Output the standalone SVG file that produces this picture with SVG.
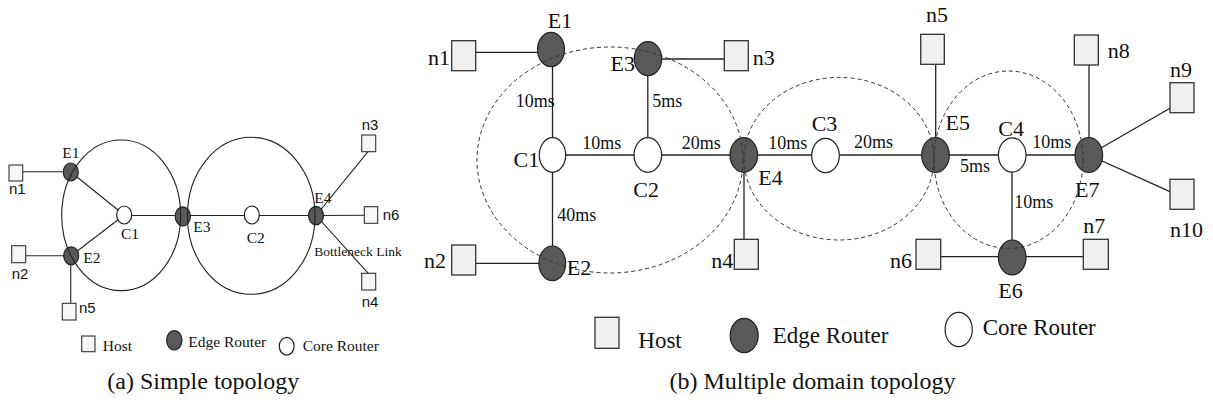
<svg xmlns="http://www.w3.org/2000/svg" width="1213" height="406" viewBox="0 0 1213 406">
<style>
.bg{fill:#ffffff}
.ln{stroke:#222;stroke-width:1.3;fill:none}
.lnA{stroke:#222;stroke-width:1.1;fill:none}
.host{fill:#f0f0f0;stroke:#333;stroke-width:1.3}
.hostA{fill:#f6f6f6;stroke:#333;stroke-width:1.1}
.edge{fill:#595959;stroke:#222;stroke-width:1.2}
.core{fill:#ffffff;stroke:#222;stroke-width:1.2}
.dom{fill:none;stroke:#333;stroke-width:1;stroke-dasharray:4 3}
.domA{fill:none;stroke:#222;stroke-width:1.1}
.s{font-family:"Liberation Serif","Times New Roman",serif;fill:#111}
.ss{font-family:"Liberation Sans",Arial,sans-serif;fill:#111}
.nl{font-size:22px}
.ms{font-size:18px}
.lg{font-size:23px}
.cap{font-size:24px}
.la{font-size:15.5px}
.lb{font-size:15px}
</style>
<rect class="bg" x="0" y="0" width="1213" height="406"/>

<!-- ===== (a) Simple topology ===== -->
<g id="a-connectors">
  <line class="lnA" x1="22.7" y1="171.7" x2="70.8" y2="171.7"/>
  <line class="lnA" x1="70.8" y1="172" x2="124.2" y2="215"/>
  <line class="lnA" x1="71.2" y1="255.8" x2="124.2" y2="215"/>
  <line class="lnA" x1="25.7" y1="255.7" x2="71.2" y2="255.7"/>
  <line class="lnA" x1="70.7" y1="255.8" x2="70.7" y2="303.3"/>
  <line class="lnA" x1="124.2" y1="215.5" x2="316" y2="215.5"/>
  <line class="lnA" x1="316" y1="215.5" x2="368" y2="151.7"/>
  <line class="lnA" x1="316" y1="215.5" x2="364.3" y2="215.3"/>
  <line class="lnA" x1="316" y1="215.5" x2="368.3" y2="273.3"/>
</g>
<g id="a-n1"><rect class="hostA" x="9" y="165" width="13.7" height="16"/><text class="ss lb" x="9" y="194.3">n1</text></g>
<g id="a-n2"><rect class="hostA" x="11.7" y="245.7" width="14" height="17"/><text class="ss lb" x="11.7" y="279.3">n2</text></g>
<g id="a-n5"><rect class="hostA" x="62.3" y="303.3" width="13.7" height="16.7"/><text class="ss lb" x="79" y="312.7">n5</text></g>
<g id="a-n3"><rect class="hostA" x="361.7" y="135" width="14" height="16.7"/><text class="ss lb" x="361.7" y="130">n3</text></g>
<g id="a-n6"><rect class="hostA" x="364.3" y="206.7" width="13.4" height="16.6"/><text class="ss lb" x="382.7" y="220">n6</text></g>
<g id="a-n4"><rect class="hostA" x="361.7" y="273.3" width="14" height="16.7"/><text class="ss lb" x="361.7" y="306.7">n4</text></g>
<g id="a-E1"><ellipse class="edge" cx="70.8" cy="172" rx="7.5" ry="9"/><text class="s la" x="62.3" y="158.3">E1</text></g>
<g id="a-E2"><ellipse class="edge" cx="71.2" cy="255.8" rx="7.5" ry="9"/><text class="s la" x="83.3" y="262.7">E2</text></g>
<g id="a-E3"><ellipse class="edge" cx="182.8" cy="216.3" rx="7.6" ry="9.5"/><text class="s la" x="193.3" y="232.3">E3</text></g>
<g id="a-E4"><ellipse class="edge" cx="316" cy="215.6" rx="7.5" ry="9.3"/><text class="s la" x="314.3" y="202.7">E4</text></g>
<g id="a-C1"><ellipse class="core" cx="124.2" cy="215" rx="7.5" ry="9"/><text class="s la" x="121" y="239">C1</text></g>
<g id="a-C2"><ellipse class="core" cx="251.8" cy="215" rx="7.5" ry="9"/><text class="s la" x="246.7" y="242.7">C2</text></g>
<g id="a-domains">
  <ellipse class="domA" cx="121.2" cy="215.3" rx="59.5" ry="75.3"/>
  <ellipse class="domA" cx="251.2" cy="215.8" rx="63.8" ry="78.5"/>
</g>
<text class="s" x="314.3" y="255.5" font-size="13.5">Bottleneck Link</text>
<g id="a-legend">
  <rect class="hostA" x="81.7" y="336" width="13.3" height="15.7"/>
  <text class="s la" x="102.7" y="351">Host</text>
  <ellipse class="edge" cx="174.3" cy="340.3" rx="7.7" ry="9.7"/>
  <text class="s la" x="188.3" y="346.7">Edge Router</text>
  <ellipse class="core" cx="286.7" cy="346.2" rx="7.4" ry="8.9"/>
  <text class="s la" x="302.7" y="351">Core Router</text>
</g>
<text class="s cap" x="203.3" y="389" text-anchor="middle">(a) Simple topology</text>

<!-- ===== (b) Multiple domain topology ===== -->
<g id="b-connectors">
  <line class="ln" x1="475.7" y1="52.3" x2="551" y2="52.3"/>
  <line class="ln" x1="552.5" y1="49.5" x2="552.5" y2="263.3"/>
  <line class="ln" x1="475.7" y1="263.3" x2="552.5" y2="263.3"/>
  <line class="ln" x1="552.5" y1="155" x2="1088.8" y2="155"/>
  <line class="ln" x1="647.8" y1="58.7" x2="647.8" y2="155"/>
  <line class="ln" x1="648" y1="59" x2="724.3" y2="59"/>
  <line class="ln" x1="744" y1="155" x2="744" y2="239.3"/>
  <line class="ln" x1="935.7" y1="64.3" x2="935.7" y2="155"/>
  <line class="ln" x1="1012" y1="155" x2="1012" y2="257.5"/>
  <line class="ln" x1="940.7" y1="256.7" x2="1083.3" y2="256.7"/>
  <line class="ln" x1="1089" y1="65" x2="1089" y2="155"/>
  <line class="ln" x1="1088.8" y1="155" x2="1170" y2="108.3"/>
  <line class="ln" x1="1088.8" y1="155" x2="1170" y2="191.7"/>
</g>
<g id="b-n1"><rect class="host" x="451.7" y="40.7" width="24" height="30"/><text class="s nl" x="450" y="65" text-anchor="end">n1</text></g>
<g id="b-n2"><rect class="host" x="451.7" y="245" width="24" height="30"/><text class="s nl" x="446" y="268.3" text-anchor="end">n2</text></g>
<g id="b-n3"><rect class="host" x="724.3" y="40.7" width="24" height="30"/><text class="s nl" x="752.7" y="65">n3</text></g>
<g id="b-n4"><rect class="host" x="734.3" y="239.3" width="24" height="30"/><text class="s nl" x="733.3" y="268.3" text-anchor="end">n4</text></g>
<g id="b-n5"><rect class="host" x="920.7" y="34.3" width="23.6" height="30"/><text class="s nl" x="926" y="21.7">n5</text></g>
<g id="b-n6"><rect class="host" x="916" y="239.3" width="24.7" height="30"/><text class="s nl" x="912" y="268.3" text-anchor="end">n6</text></g>
<g id="b-n7"><rect class="host" x="1083.3" y="239.3" width="25" height="30"/><text class="s nl" x="1083.3" y="233.3">n7</text></g>
<g id="b-n8"><rect class="host" x="1074.3" y="35" width="24" height="30"/><text class="s nl" x="1107.7" y="58.3">n8</text></g>
<g id="b-n9"><rect class="host" x="1170" y="82.7" width="24" height="30"/><text class="s nl" x="1170" y="76.7">n9</text></g>
<g id="b-n10"><rect class="host" x="1170" y="179.3" width="24" height="30"/><text class="s nl" x="1170" y="237">n10</text></g>
<g id="b-E1"><ellipse class="edge" cx="551" cy="49.5" rx="13.5" ry="17.2"/><text class="s nl" x="547.7" y="28.3">E1</text></g>
<g id="b-E2"><ellipse class="edge" cx="552.3" cy="263.3" rx="13.4" ry="17.3"/><text class="s nl" x="566.7" y="275">E2</text></g>
<g id="b-E3"><ellipse class="edge" cx="648" cy="58.7" rx="13.7" ry="17"/><text class="s nl" x="635" y="71" text-anchor="end">E3</text></g>
<g id="b-E4"><ellipse class="edge" cx="743.8" cy="155" rx="13.8" ry="17.3"/><text class="s nl" x="758.3" y="185">E4</text></g>
<g id="b-E5"><ellipse class="edge" cx="935.5" cy="155" rx="13.8" ry="17.5"/><text class="s nl" x="945.5" y="130">E5</text></g>
<g id="b-E6"><ellipse class="edge" cx="1012.2" cy="257.5" rx="13.8" ry="17.5"/><text class="s nl" x="998.3" y="298">E6</text></g>
<g id="b-E7"><ellipse class="edge" cx="1088.8" cy="155" rx="13.8" ry="17.5"/><text class="s nl" x="1075" y="196.7">E7</text></g>
<g id="b-C1"><ellipse class="core" cx="552.5" cy="155" rx="13.2" ry="17.3"/><text class="s nl" x="539.3" y="166.7" text-anchor="end">C1</text></g>
<g id="b-C2"><ellipse class="core" cx="647.8" cy="155" rx="13.8" ry="17.3"/><text class="s nl" x="633.3" y="196.7">C2</text></g>
<g id="b-C3"><ellipse class="core" cx="825.5" cy="155.5" rx="13.8" ry="17.2"/><text class="s nl" x="811.7" y="130.7">C3</text></g>
<g id="b-C4"><ellipse class="core" cx="1012.2" cy="155" rx="13.8" ry="17.2"/><text class="s nl" x="998.3" y="136">C4</text></g>
<g id="b-domains">
  <ellipse class="dom" cx="610" cy="160" rx="133" ry="113"/>
  <ellipse class="dom" cx="839" cy="158.7" rx="95" ry="81.3"/>
  <ellipse class="dom" cx="1008.5" cy="159.7" rx="74.5" ry="88.7"/>
</g>
<g id="b-latency">
  <text class="s ms" x="515.7" y="106.7">10ms</text>
  <text class="s ms" x="652.3" y="106.7">5ms</text>
  <text class="s ms" x="582.3" y="149">10ms</text>
  <text class="s ms" x="681.7" y="149">20ms</text>
  <text class="s ms" x="768.3" y="149">10ms</text>
  <text class="s ms" x="557.3" y="220.7">40ms</text>
  <text class="s ms" x="854" y="148.3">20ms</text>
  <text class="s ms" x="960" y="172.3">5ms</text>
  <text class="s ms" x="1032.3" y="148.3">10ms</text>
  <text class="s ms" x="1014.3" y="208.3">10ms</text>
</g>
<g id="b-legend">
  <rect class="host" x="595" y="317.3" width="24" height="31"/>
  <text class="s lg" x="638.3" y="348.3">Host</text>
  <ellipse class="edge" cx="744.2" cy="335.5" rx="14" ry="17.2"/>
  <text class="s lg" x="772.7" y="343.3">Edge Router</text>
  <ellipse class="core" cx="958.7" cy="329.5" rx="13.6" ry="17.2"/>
  <text class="s lg" x="982.7" y="335">Core Router</text>
</g>
<text class="s cap" x="812.5" y="389" text-anchor="middle">(b) Multiple domain topology</text>
</svg>
